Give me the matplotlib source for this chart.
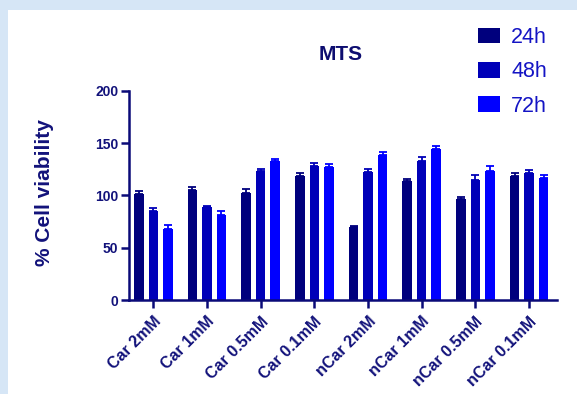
import matplotlib
matplotlib.use("Agg")
import matplotlib.pyplot as plt
from matplotlib.patches import Rectangle, Patch
import numpy as np

plt.rcParams['font.family'] = ['Liberation Sans', 'DejaVu Sans']

categories = ["Car 2mM", "Car 1mM", "Car 0.5mM", "Car 0.1mM",
              "nCar 2mM", "nCar 1mM", "nCar 0.5mM", "nCar 0.1mM"]
series_labels = ["24h", "48h", "72h"]
viability_24h = [101.4, 105.3, 102.0, 118.4, 69.5, 113.6, 96.3, 118.4]
viability_48h = [85.5, 89.3, 123.4, 128.2, 122.5, 133.3, 114.5, 121.2]
viability_72h = [67.6, 81.3, 132.4, 127.0, 138.5, 144.2, 123.4, 116.5]
sem_24h = [2.6, 2.7, 4.0, 2.6, 1.3, 2.2, 2.6, 2.6]
sem_48h = [2.5, 1.0, 2.0, 2.6, 2.9, 2.9, 4.5, 2.9]
sem_72h = [3.9, 3.7, 2.6, 3.0, 2.8, 2.8, 4.2, 2.5]
yticks = [0, 50, 100, 150, 200]

colors = ["#00007d", "#0000b8", "#0000ff"]
text_navy = "#12127a"
axis_navy = "#0a0a78"

W, H = 577, 394
fig = plt.figure(figsize=(W / 100, H / 100), dpi=100)
fig.patch.set_facecolor("#d6e6f6")
fig.add_artist(Rectangle((8 / W, 0), (W - 8) / W, (H - 10) / H,
                         transform=fig.transFigure, facecolor="white",
                         edgecolor="none", zorder=0))

ax = fig.add_axes([129.3 / W, (H - 300) / H, (557 - 129.3) / W, (300 - 90.7) / H])
ax.set_facecolor("none")

x = np.arange(len(categories))
offset = 0.27
width = 0.178
values = [viability_24h, viability_48h, viability_72h]
errors = [sem_24h, sem_48h, sem_72h]
for i, (vals, errs, col, lab) in enumerate(zip(values, errors, colors, series_labels)):
    pos = x + (i - 1) * offset
    ax.bar(pos, vals, width=width, color=col, label=lab, zorder=2)
    ax.errorbar(pos, vals, yerr=[np.zeros(len(errs)), errs], fmt="none",
                ecolor=col, elinewidth=1.3, capsize=2.6, capthick=1.3, zorder=3)

ax.set_xlim(-0.447, 7.52)
ax.set_ylim(0, 200)
ax.set_yticks(yticks)
ax.set_yticklabels([str(v) for v in yticks], fontsize=10, fontweight="bold",
                   color=text_navy)
ax.set_xticks(x)
ax.set_xticklabels(categories, rotation=45, ha="right", rotation_mode="anchor",
                   fontsize=11.5, fontweight="bold", color=text_navy)

for side in ["top", "right"]:
    ax.spines[side].set_visible(False)
for side in ["left", "bottom"]:
    ax.spines[side].set_color(axis_navy)
    ax.spines[side].set_linewidth(1.8)
ax.tick_params(axis="both", colors=axis_navy, width=1.8, length=6, pad=2)
ax.tick_params(axis="y", labelcolor=text_navy)
ax.tick_params(axis="x", labelcolor=text_navy, pad=4)

fig.text(340.5 / W, 1 - 54 / H, "MTS", ha="center", va="center",
         fontsize=15, fontweight="bold", color="#0d0d70")
fig.text(45 / W, 1 - 193 / H, "% Cell viability", rotation=90, ha="center",
         va="center", fontsize=15, fontweight="bold", color=text_navy)

handles = [Patch(facecolor=c, edgecolor="none") for c in colors]
leg = fig.legend(handles, series_labels, loc="upper left",
                 bbox_to_anchor=(478 / W, 1 - 27 / H), bbox_transform=fig.transFigure,
                 frameon=False, borderpad=0, borderaxespad=0,
                 fontsize=15.5, handlelength=1.0, handleheight=0.75,
                 handletextpad=0.55, labelspacing=0.62)
for t in leg.get_texts():
    t.set_color("#1414c4")

fig.savefig("out.png", dpi=100, facecolor=fig.get_facecolor())
